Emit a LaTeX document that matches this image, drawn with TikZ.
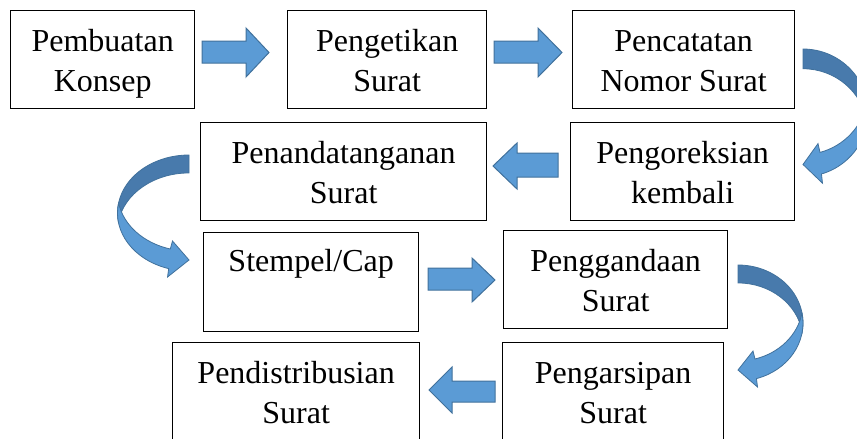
\documentclass[tikz,border=0pt]{standalone}
\usepackage{fontspec}
\setmainfont{Liberation Serif}
\definecolor{lightblue}{HTML}{5B9BD5}
\definecolor{edgeblue}{HTML}{41719C}
\definecolor{backblue}{HTML}{487AAC}
\newcommand\boxfont{\fontsize{32}{40}\selectfont}
\tikzset{
  stepbox/.style={draw=black, line width=1.3pt, fill=white, rectangle, inner sep=0pt, anchor=north west},
  boxtext/.style={anchor=north, inner sep=0pt, align=center, font=\boxfont},
  blockarrow/.style={fill=lightblue, draw=edgeblue, line width=1pt, line join=miter},
  backpart/.style={fill=backblue, draw=edgeblue, line width=0.8pt},
  frontpart/.style={fill=lightblue, draw=edgeblue, line width=0.8pt, line join=miter},
  bentarrow/.pic={
    \path[backpart] (0,0) arc[start angle=-90, end angle=8.9, x radius=65, y radius=58]
      arc[start angle=-8.9, end angle=-90, x radius=65, y radius=58] -- cycle;
    \path[frontpart] (64.03,48.03) arc[start angle=-9.9, end angle=73.5, x radius=65, y radius=58]
      -- (19.5,122) -- (0,105) -- (15,86) -- (17,94)
      arc[start angle=74.8, end angle=9.9, x radius=65, y radius=58] -- cycle;
  }
}
\begin{document}
\begin{tikzpicture}[x=1pt,y=-1pt]
\useasboundingbox (0,0) rectangle (857,439);
% boxes
\node[stepbox, minimum width=184pt, minimum height=98pt] (b1) at (10,10) {};
\node[stepbox, minimum width=199pt, minimum height=98pt] (b2) at (287,10) {};
\node[stepbox, minimum width=222pt, minimum height=98pt] (b3) at (572,10) {};
\node[stepbox, minimum width=286pt, minimum height=98pt] (b4) at (200,122) {};
\node[stepbox, minimum width=224pt, minimum height=98pt] (b5) at (570,122) {};
\node[stepbox, minimum width=215pt, minimum height=99pt] (b6) at (203,232) {};
\node[stepbox, minimum width=224pt, minimum height=98pt] (b7) at (503,230) {};
\node[stepbox, minimum width=247pt, minimum height=98pt] (b8) at (172,342) {};
\node[stepbox, minimum width=221pt, minimum height=98pt] (b9) at (502,342) {};
% texts
\node[boxtext] (t1) at ([yshift=-13pt]b1.north) {\strut Pembuatan\\\strut Konsep};
\node[boxtext] (t2) at ([yshift=-13pt]b2.north) {\strut Pengetikan\\\strut Surat};
\node[boxtext] (t3) at ([yshift=-13pt]b3.north) {\strut Pencatatan\\\strut Nomor Surat};
\node[boxtext] (t4) at ([yshift=-13pt]b4.north) {\strut Penandatanganan\\\strut Surat};
\node[boxtext] (t5) at ([yshift=-13pt]b5.north) {\strut Pengoreksian\\\strut kembali};
\node[boxtext] (t6) at ([yshift=-11pt]b6.north) {\strut Stempel/Cap};
\node[boxtext] (t7) at ([yshift=-13pt]b7.north) {\strut Penggandaan\\\strut Surat};
\node[boxtext] (t8) at ([yshift=-13pt]b8.north) {\strut Pendistribusian\\\strut Surat};
\node[boxtext] (t9) at ([yshift=-13pt]b9.north) {\strut Pengarsipan\\\strut Surat};
% straight block arrows
\path[blockarrow] (202,41) -- (246,41) -- (246,28) -- (269,52.5) -- (246,77) -- (246,63) -- (202,63) -- cycle;
\path[blockarrow] (494,41) -- (538,41) -- (538,28) -- (562,52.5) -- (538,77) -- (538,63) -- (494,63) -- cycle;
\path[blockarrow] (558,153) -- (517,153) -- (517,143) -- (493,166) -- (517,189) -- (517,177) -- (558,177) -- cycle;
\path[blockarrow] (428,268) -- (472,268) -- (472,258) -- (495,280) -- (472,302) -- (472,290) -- (428,290) -- cycle;
\path[blockarrow] (495,381) -- (452,381) -- (452,367) -- (429,390) -- (452,413) -- (452,402) -- (495,402) -- cycle;
% curved arrows
\pic[yscale=1.1] at (803,49) {bentarrow};
\pic[xscale=-1.1] at (189,155) {bentarrow};
\pic at (738,265) {bentarrow};
\end{tikzpicture}
\end{document}
